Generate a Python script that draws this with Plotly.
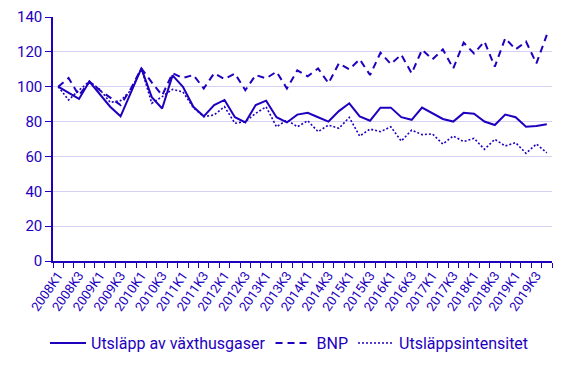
import plotly.graph_objects as go

quarters = [f"{y}K{q}" for y in range(2008, 2020) for q in range(1, 5)]

utslapp = [100, 96.5, 93, 103, 96, 88.5, 83, 97, 110.5, 94, 87.5, 106.5,
           100, 88.5, 83, 89.5, 92.4, 82.5, 79.5, 89.5, 92, 82.5, 79.5, 84,
           85, 82.5, 80, 86, 90.5, 83, 80.5, 88, 88, 82.5, 81, 88,
           84.5, 81.5, 80, 85, 84.5, 80, 78, 84, 82.5, 77, 77.5, 78.5]

bnp = [100, 105, 95, 103, 98, 94, 89.5, 99, 110.5, 102.5, 95, 107.7,
       105, 106.7, 99, 107.7, 104.4, 107.5, 98, 106.7, 104.8, 108.6, 99, 109.4,
       106, 110.5, 102, 113.4, 110, 115.7, 106.7, 119.5, 113, 118.4, 107.7, 121.2,
       115.7, 121.4, 110.5, 125.3, 119.1, 125.9, 111.5, 127.8, 121.4, 125.9, 113.4, 129.7]

intensitet = [100, 92.4, 98, 103, 98.5, 91, 92, 98, 110.5, 90.5, 94.3, 98.5,
              97, 88, 82.8, 83.8, 88.5, 79, 80, 84.7, 88.5, 77, 80.9, 77,
              80.5, 74.2, 78, 76.1, 82.4, 71.7, 75.7, 74.2, 77, 68.8, 75.1, 72.5,
              72.9, 67.1, 71.7, 68.5, 70.4, 64.1, 69.8, 66, 67.9, 61.8, 67.1, 62.1]

series_names = ["Utsläpp av växthusgaser", "BNP", "Utsläppsintensitet"]

C = "#1e00be"
GRID = "#d4d2f2"
FONT = "Roboto"

xpos = list(range(len(quarters)))
tick_idx = xpos[::2]
tick_txt = quarters[::2]

fig = go.Figure()
fig.add_trace(go.Scatter(x=xpos, y=utslapp, mode="lines", name=series_names[0],
                         line=dict(color=C, width=2)))
fig.add_trace(go.Scatter(x=xpos, y=bnp, mode="lines", name=series_names[1],
                         line=dict(color=C, width=2, dash="7px,5px")))
fig.add_trace(go.Scatter(x=xpos, y=intensitet, mode="lines", name=series_names[2],
                         line=dict(color=C, width=1.6, dash="2px,2px")))

# page body has an 8px default margin: compensate by shrinking the figure
fig.update_layout(
    width=563, height=358,
    margin=dict(l=45, r=19, t=9, b=105, autoexpand=False),
    paper_bgcolor="white", plot_bgcolor="white",
    font=dict(family=FONT, color=C, size=14),
    showlegend=True,
    legend=dict(orientation="h", xref="container", yref="container",
                x=0.5, xanchor="center", y=0.064, yanchor="middle",
                font=dict(size=16, color=C), itemwidth=36,
                tracegroupgap=0, bgcolor="rgba(0,0,0,0)"),
)

fig.update_xaxes(
    range=[-0.5, len(quarters) - 0.5], automargin=False,
    tickmode="array", tickvals=tick_idx, ticktext=tick_txt,
    tickangle=-55, ticks="", tickfont=dict(size=13, color=C),
    showgrid=False, zeroline=False,
    showline=True, linecolor=C, linewidth=1.5,
    minor=dict(tickmode="linear", tick0=-0.5, dtick=1, ticks="outside",
               ticklen=5, tickcolor=C, tickwidth=1, showgrid=False),
)

fig.update_yaxes(
    range=[0, 140], dtick=20, tick0=0, automargin=False,
    ticks="outside", ticklen=6, tickcolor=C, tickwidth=1,
    tickfont=dict(size=15, color=C),
    showgrid=True, gridcolor=GRID, gridwidth=1,
    zeroline=False, showline=True, linecolor=C, linewidth=1.5,
)

fig.write_html("out.html")
